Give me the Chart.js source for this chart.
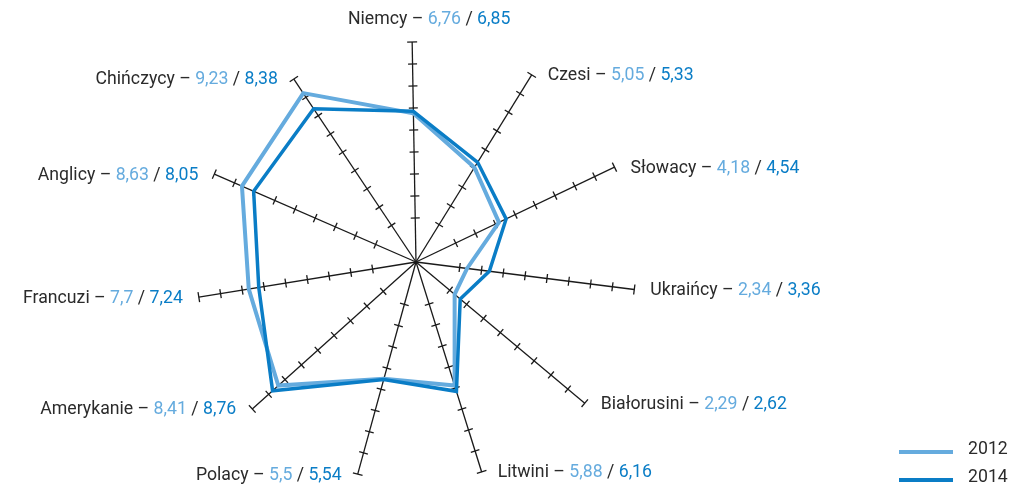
<!DOCTYPE html>
<html>
<head>
<meta charset="utf-8">
<script src="https://cdn.jsdelivr.net/npm/chart.js@4.4.1/dist/chart.umd.min.js"></script>
<style>
  html, body { margin: 0; padding: 0; background: #fff; }
  #wrap { width: 1012px; height: 488px; position: relative; }
</style>
</head>
<body>
<div id="wrap"><canvas id="radar" width="1012" height="488"></canvas></div>
<script>
const narody = ['Niemcy', 'Czesi', 'Słowacy', 'Ukraińcy', 'Białorusini', 'Litwini',
  'Polacy', 'Amerykanie', 'Francuzi', 'Anglicy', 'Chińczycy'];
const wyniki2012 = [6.76, 5.05, 4.18, 2.34, 2.29, 5.88, 5.5, 8.41, 7.7, 8.63, 9.23];
const wyniki2014 = [6.85, 5.33, 4.54, 3.36, 2.62, 6.16, 5.54, 8.76, 7.24, 8.05, 8.38];
const lata = ['2012', '2014'];
const podzialka = [2, 3, 4, 5, 6, 7, 8, 9, 10];

const jasny = '#65abde';
const ciemny = '#0a7dc6';
const tekst = '#2b2b2b';
const czcionka = '17.7px Roboto, "DejaVu Sans", sans-serif';

const fmt = v => String(v).replace('.', ',');

// kreski podziałki na każdej osi
const kreski = {
  id: 'kreski',
  beforeDatasetsDraw(chart) {
    const r = chart.scales.r;
    const ctx = chart.ctx;
    ctx.save();
    ctx.strokeStyle = '#1a1a1a';
    ctx.lineWidth = 1.3;
    narody.forEach((_, i) => {
      podzialka.forEach(v => {
        const p = r.getPointPositionForValue(i, v);
        const nx = -Math.sin(p.angle), ny = Math.cos(p.angle);
        const d = v === 10 ? 5 : 4.5;
        ctx.beginPath();
        ctx.moveTo(p.x - nx * d, p.y - ny * d);
        ctx.lineTo(p.x + nx * d, p.y + ny * d);
        ctx.stroke();
      });
    });
    ctx.restore();
  }
};

// etykiety z wartościami w kolorach serii + legenda
const etykiety = {
  id: 'etykiety',
  afterDraw(chart) {
    const r = chart.scales.r;
    const ctx = chart.ctx;
    ctx.save();
    ctx.font = czcionka;
    ctx.textBaseline = 'middle';
    narody.forEach((nazwa, i) => {
      const p = r.getPointPositionForValue(i, 10);
      const czesci = [
        [nazwa + ' – ', tekst],
        [fmt(wyniki2012[i]), jasny],
        [' / ', tekst],
        [fmt(wyniki2014[i]), ciemny]
      ];
      const szer = czesci.reduce((s, c) => s + ctx.measureText(c[0]).width, 0);
      let x, y;
      if (Math.abs(p.x - r.xCenter) < 5) {
        x = p.x + 17 - szer / 2;
        y = p.y - 22;
      } else if (p.x > r.xCenter) {
        x = p.x + 16;
        y = p.y + 1;
      } else {
        x = p.x - 16 - szer;
        y = p.y + 1;
      }
      ctx.textAlign = 'left';
      czesci.forEach(([t, c]) => {
        ctx.fillStyle = c;
        ctx.fillText(t, x, y);
        x += ctx.measureText(t).width;
      });
    });

    // legenda
    const kolory = [jasny, ciemny];
    lata.forEach((rok, k) => {
      const y = 452 + k * 28;
      ctx.strokeStyle = kolory[k];
      ctx.lineWidth = 4;
      ctx.beginPath();
      ctx.moveTo(899, y);
      ctx.lineTo(953, y);
      ctx.stroke();
      ctx.fillStyle = tekst;
      ctx.fillText(rok, 968, y - 2);
    });
    ctx.restore();
  }
};

new Chart(document.getElementById('radar'), {
  type: 'radar',
  data: {
    labels: narody,
    datasets: [
      {
        label: lata[0],
        data: wyniki2012,
        borderColor: jasny,
        borderWidth: 4,
        borderJoinStyle: 'miter',
        pointRadius: 0,
        fill: false,
        order: 2
      },
      {
        label: lata[1],
        data: wyniki2014,
        borderColor: ciemny,
        borderWidth: 3.5,
        borderJoinStyle: 'miter',
        pointRadius: 0,
        fill: false,
        order: 1
      }
    ]
  },
  options: {
    responsive: false,
    animation: false,
    devicePixelRatio: 1,
    layout: { padding: { left: 0, right: 180, top: 42, bottom: 6 } },
    plugins: { legend: { display: false }, tooltip: { enabled: false } },
    scales: {
      r: {
        min: 0,
        max: 10,
        startAngle: -1,
        ticks: { display: false, stepSize: 1 },
        grid: { display: false },
        angleLines: { display: true, color: '#1a1a1a', lineWidth: 1.3 },
        pointLabels: { display: false }
      }
    }
  },
  plugins: [kreski, etykiety]
});
</script>
</body>
</html>
